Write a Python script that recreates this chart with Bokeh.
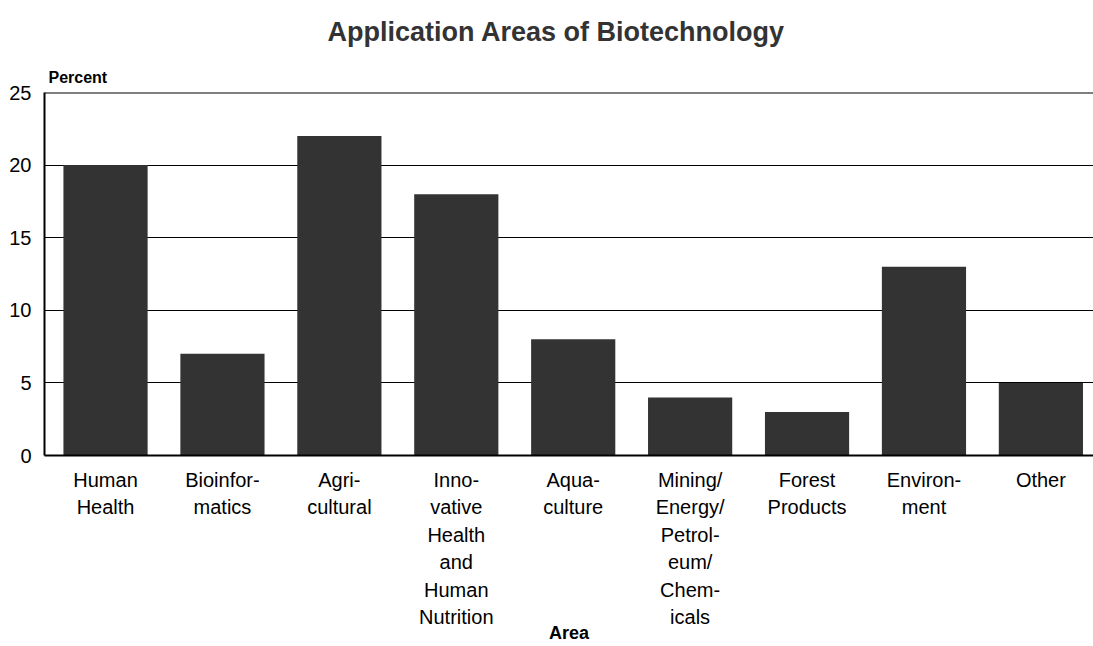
from bokeh.plotting import figure
from bokeh.models import FixedTicker, Range1d, Span, Title
from bokeh.embed import file_html
from bokeh.resources import INLINE

categories = ["Human\nHealth", "Bioinfor-\nmatics", "Agri-\ncultural",
              "Inno-\nvative\nHealth\nand\nHuman\nNutrition", "Aqua-\nculture",
              "Mining/\nEnergy/\nPetrol-\neum/\nChem-\nicals", "Forest\nProducts",
              "Environ-\nment", "Other"]
percent = [20, 7, 22, 18, 8, 4, 3, 13, 5]
y_ticks = [0, 5, 10, 15, 20, 25]
title_text = "Application Areas of Biotechnology"
y_title = "Percent"
x_title = "Area"

FONT = "Liberation Sans"
idx = list(range(len(categories)))

p = figure(width=1093, height=646, output_backend="svg", toolbar_location=None,
           x_range=Range1d(-0.522, 8.45), y_range=Range1d(0, 25),
           min_border_left=44, min_border_top=91, min_border_right=0,
           min_border_bottom=191)
p.outline_line_color = None
p.background_fill_color = "white"
p.border_fill_color = "white"

p.vbar(x=idx, top=percent, width=0.72, fill_color="#333333", line_color=None)

# axes
p.yaxis.ticker = FixedTicker(ticks=y_ticks)
p.yaxis.axis_line_width = 2
p.yaxis.axis_line_color = "black"
p.yaxis.major_tick_line_color = None
p.yaxis.minor_tick_line_color = None
p.yaxis.major_label_text_font = FONT
p.yaxis.major_label_text_font_size = "20px"
p.yaxis.major_label_text_color = "black"
p.yaxis.major_label_standoff = 7

p.xaxis.ticker = FixedTicker(ticks=idx)
p.xaxis.major_label_overrides = {i: c for i, c in zip(idx, categories)}
p.xaxis.axis_line_width = 2
p.xaxis.axis_line_color = "black"
p.xaxis.major_tick_line_color = None
p.xaxis.minor_tick_line_color = None
p.xaxis.major_label_text_font = FONT
p.xaxis.major_label_text_font_size = "20px"
p.xaxis.major_label_text_color = "black"
p.xaxis.major_label_text_line_height = 1.25
p.xaxis.major_label_standoff = 7
p.xaxis.axis_label = x_title
p.xaxis.axis_label_text_font = FONT
p.xaxis.axis_label_text_font_size = "18px"
p.xaxis.axis_label_text_font_style = "bold"
p.xaxis.axis_label_text_color = "black"
p.xaxis.axis_label_standoff = -8

p.xgrid.grid_line_color = None
p.ygrid.ticker = FixedTicker(ticks=y_ticks)
p.ygrid.grid_line_color = "black"
p.ygrid.grid_line_width = 1

p.add_layout(Span(location=25, dimension="width", line_color="black", line_width=2))

p.add_layout(Title(text=y_title, align="left", offset=4, standoff=13,
                   text_font=FONT, text_font_size="16px", text_font_style="bold",
                   text_color="black"), "above")

p.title.text = title_text
p.title.align = "left"
p.title.offset = 283
p.title.standoff = 28
p.title.text_font = FONT
p.title.text_font_size = "27px"
p.title.text_font_style = "bold"
p.title.text_color = "#333333"

open("out.html", "w").write(file_html(p, INLINE))
